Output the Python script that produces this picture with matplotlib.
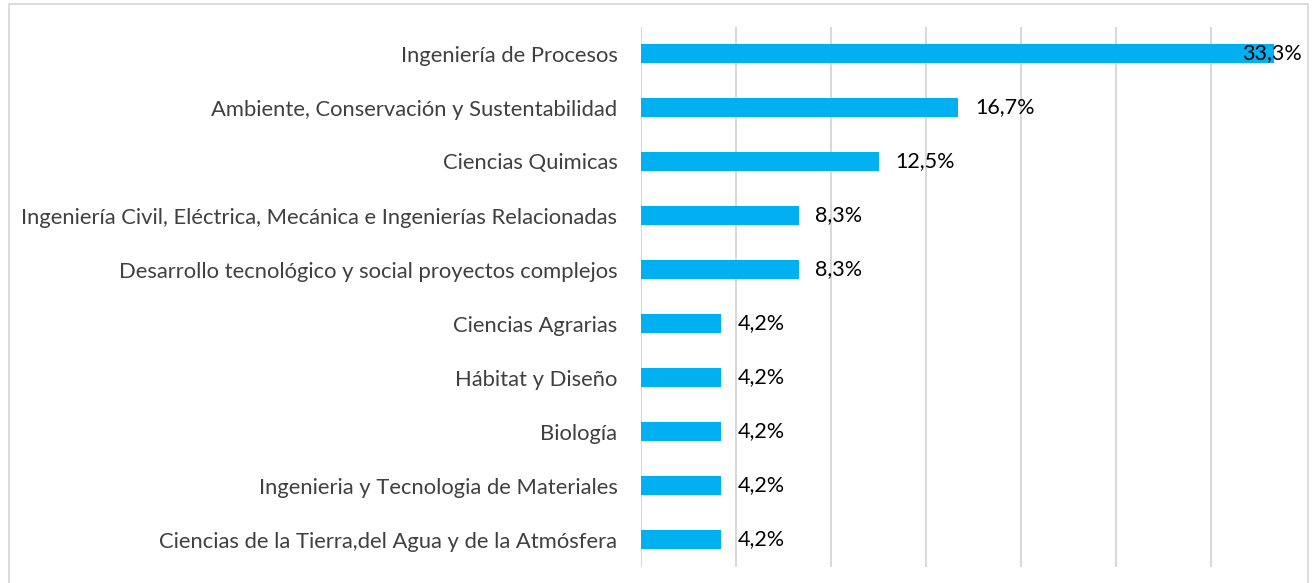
import matplotlib.pyplot as plt
from matplotlib.patches import Rectangle

categories = [
    "Ingeniería de Procesos",
    "Ambiente, Conservación y Sustentabilidad",
    "Ciencias Quimicas",
    "Ingeniería Civil, Eléctrica, Mecánica e Ingenierías Relacionadas",
    "Desarrollo tecnológico y social proyectos complejos",
    "Ciencias Agrarias",
    "Hábitat y Diseño",
    "Biología",
    "Ingenieria y Tecnologia de Materiales",
    "Ciencias de la Tierra,del Agua y de la Atmósfera",
]
values = [33.3, 16.7, 12.5, 8.3, 8.3, 4.2, 4.2, 4.2, 4.2, 4.2]
x_max = 35
grid_ticks = [0, 5, 10, 15, 20, 25, 30]

W, H = 1314, 583
fig = plt.figure(figsize=(W / 100, H / 100), dpi=100)
plt.rcParams['font.family'] = ['Lato', 'DejaVu Sans']

# plot area in pixels: x 641..1306, y 26.5..566.5
ax = fig.add_axes([641 / W, 1 - 566.5 / H, (1306 - 641) / W, 540 / H])

# chart frame
fig.patches.append(Rectangle((9 / W, -0.05), (1308 - 9) / W, 1.05 - 4 / H,
                             transform=fig.transFigure, fill=False,
                             edgecolor="#d9d9d9", linewidth=1.3))

y = list(range(len(categories)))
ax.barh(y, values, height=0.35, color="#00B0F0", zorder=2)
ax.set_xlim(0, x_max)
ax.set_ylim(len(categories) - 0.5, -0.5)

for gx in grid_ticks:
    ax.axvline(gx, color="#d9d9d9", linewidth=1.5, zorder=1)

ax.set_yticks(y)
ax.set_yticklabels(categories, fontsize=15.8, color="#404040")
ax.tick_params(axis="y", length=0, pad=17)
ax.set_xticks([])
for s in ax.spines.values():
    s.set_visible(False)

for yi, v in zip(y, values):
    label = f"{v:.1f}%".replace(".", ",")
    if v + 4 > x_max:
        ax.annotate(label, (x_max, yi), xytext=(-3, 0), textcoords="offset points",
                    ha="right", va="center", fontsize=15.5, color="black", zorder=3)
    else:
        ax.annotate(label, (v, yi), xytext=(12, 0), textcoords="offset points",
                    ha="left", va="center", fontsize=15.5, color="black", zorder=3)

fig.savefig("out.png", dpi=100)
